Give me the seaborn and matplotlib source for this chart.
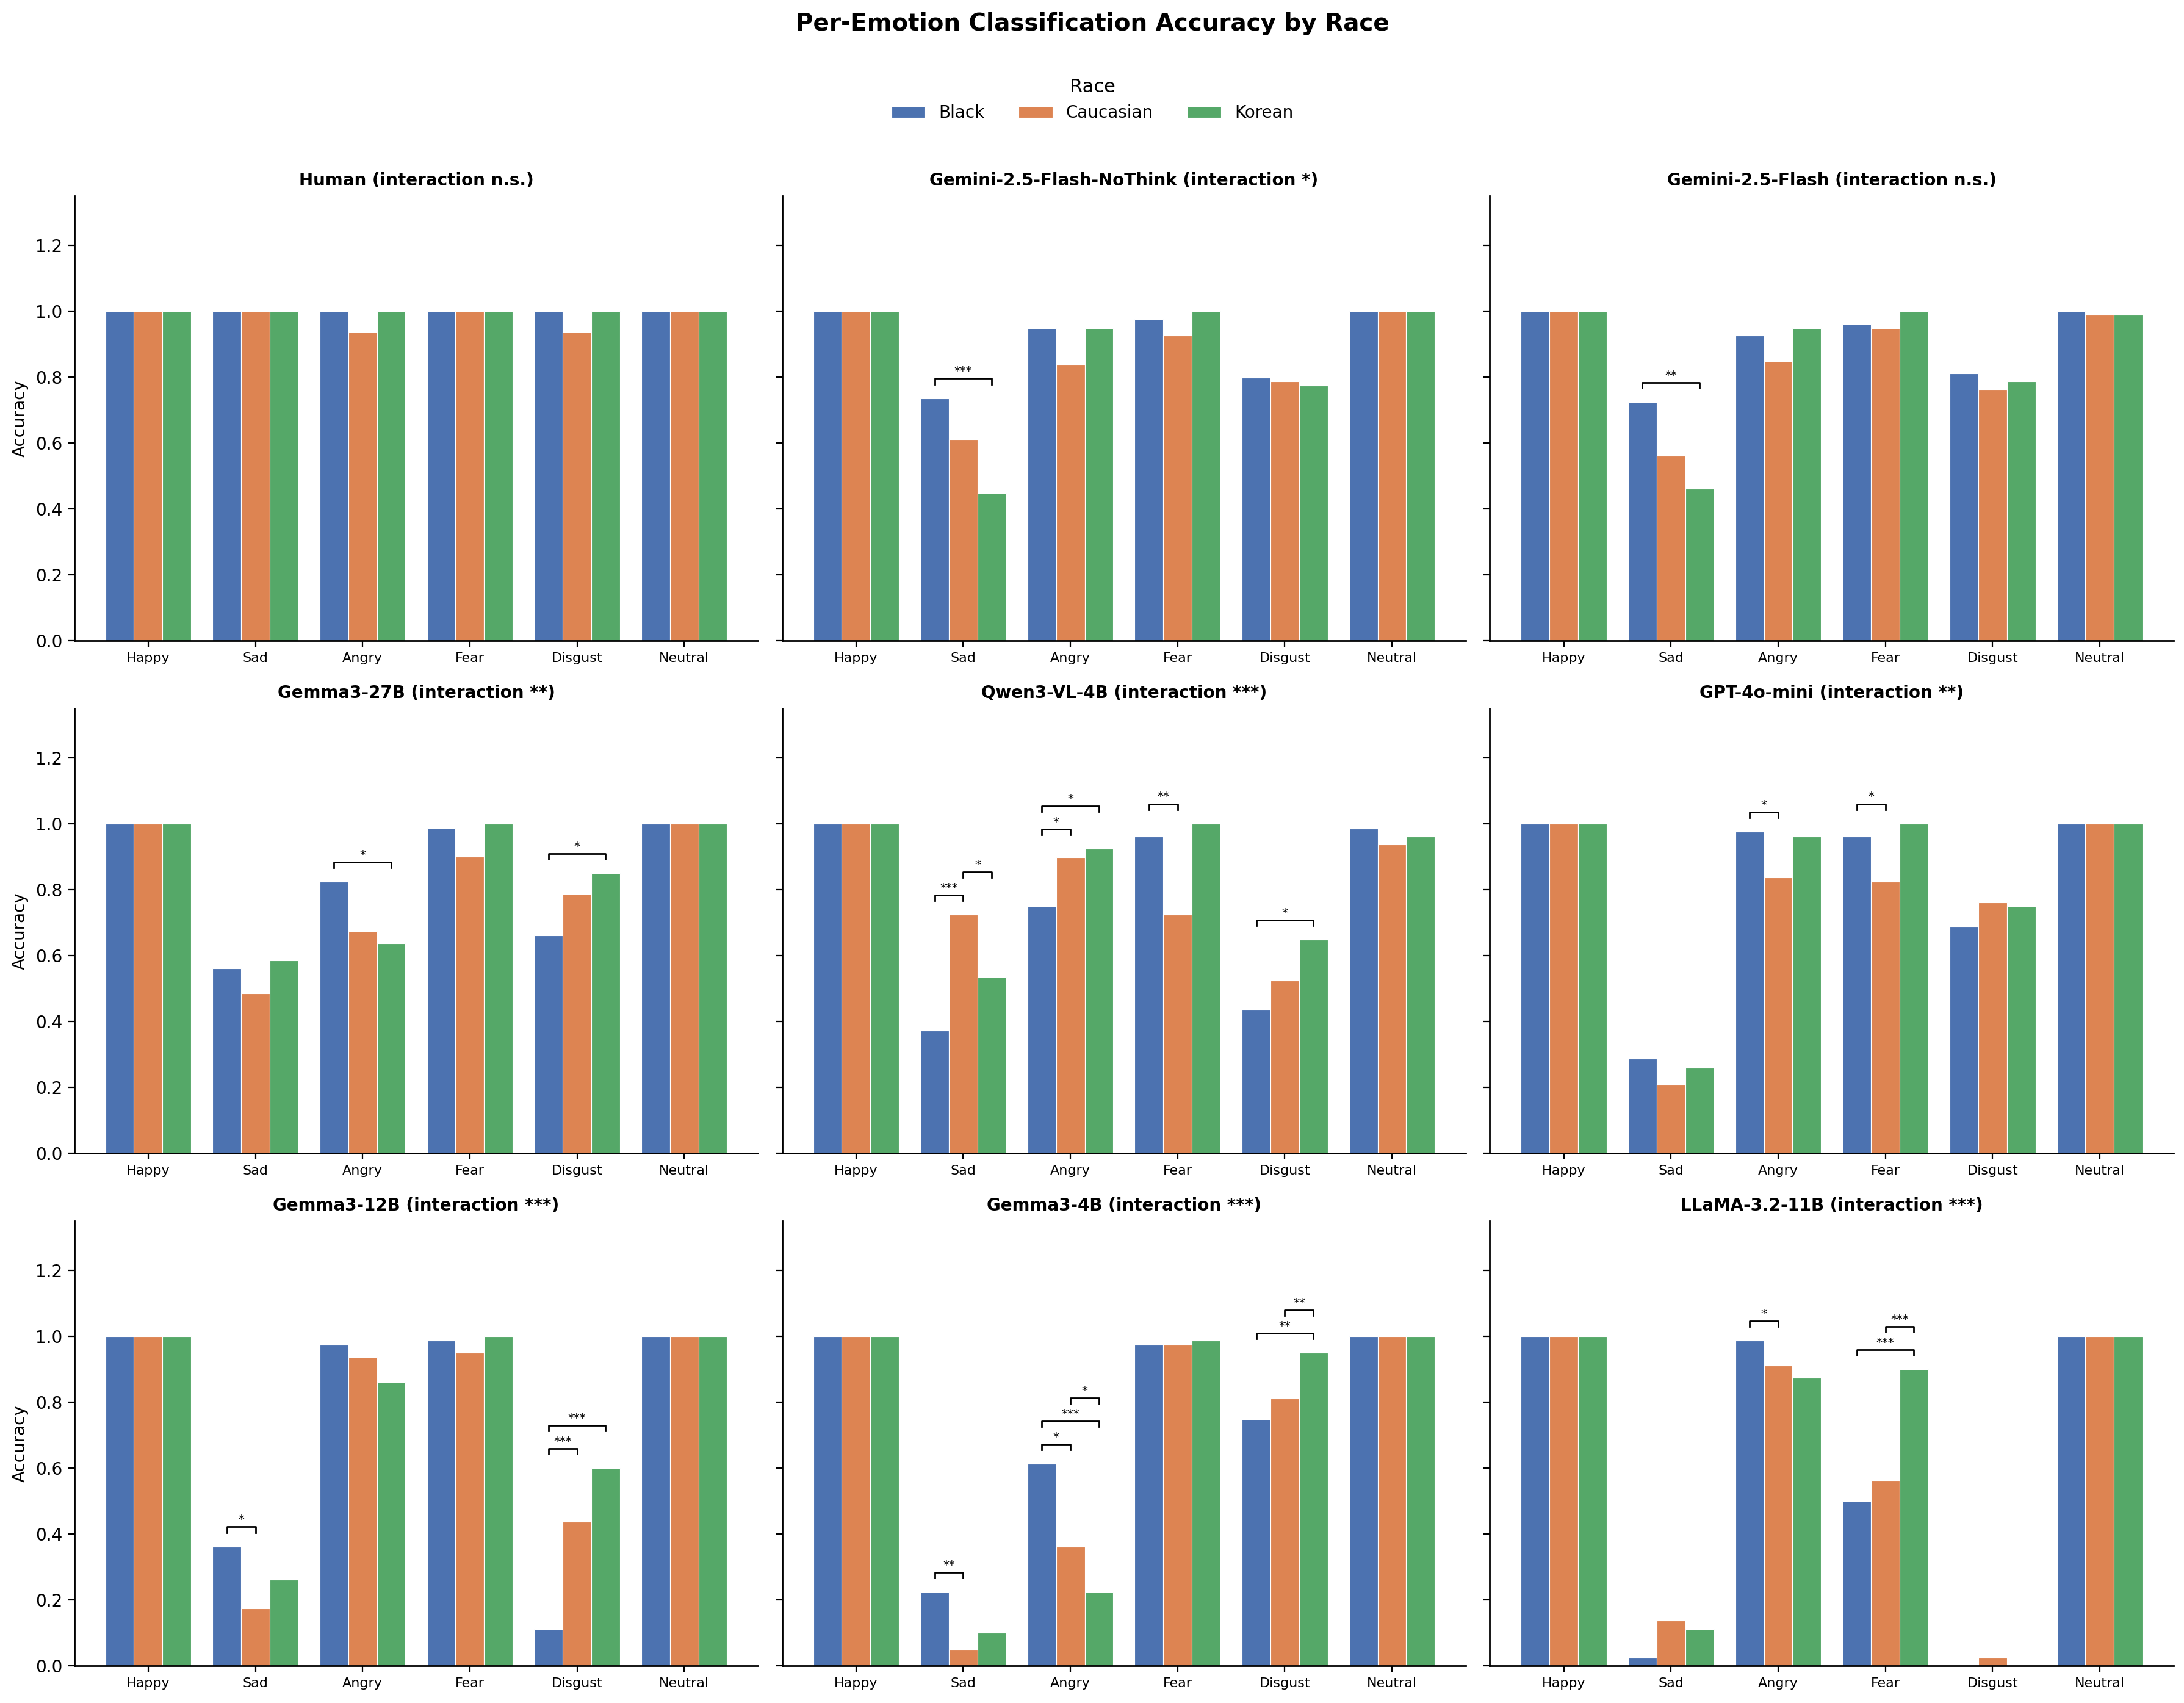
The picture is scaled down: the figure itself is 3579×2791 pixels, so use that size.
import pandas as pd
import numpy as np
import matplotlib
matplotlib.use("Agg")
import matplotlib.pyplot as plt
import seaborn as sns

# Kategorien
emotions = ['Happy', 'Sad', 'Angry', 'Fear', 'Disgust', 'Neutral']
races = ['Black', 'Caucasian', 'Korean']

# Genauigkeit je Modell: eine Liste pro Rasse, Reihenfolge wie emotions
human_black     = [1.0, 1.0, 1.0, 1.0, 1.0, 1.0]
human_caucasian = [1.0, 1.0, 0.937, 1.0, 0.937, 1.0]
human_korean    = [1.0, 1.0, 1.0, 1.0, 1.0, 1.0]

nothink_black     = [1.0, 0.735, 0.948, 0.975, 0.797, 1.0]
nothink_caucasian = [1.0, 0.611, 0.836, 0.925, 0.786, 1.0]
nothink_korean    = [1.0, 0.448, 0.948, 1.0, 0.773, 1.0]

flash_black     = [1.0, 0.723, 0.925, 0.961, 0.811, 1.0]
flash_caucasian = [1.0, 0.561, 0.848, 0.948, 0.762, 0.988]
flash_korean    = [1.0, 0.461, 0.948, 1.0, 0.786, 0.988]

g27_black     = [1.0, 0.561, 0.823, 0.986, 0.661, 1.0]
g27_caucasian = [1.0, 0.485, 0.674, 0.899, 0.786, 1.0]
g27_korean    = [1.0, 0.585, 0.637, 1.0, 0.849, 1.0]

qwen_black     = [1.0, 0.372, 0.749, 0.961, 0.434, 0.985]
qwen_caucasian = [1.0, 0.723, 0.898, 0.723, 0.523, 0.936]
qwen_korean    = [1.0, 0.534, 0.923, 1.0, 0.647, 0.961]

gpt_black     = [1.0, 0.286, 0.975, 0.961, 0.686, 1.0]
gpt_caucasian = [1.0, 0.209, 0.836, 0.823, 0.760, 1.0]
gpt_korean    = [1.0, 0.259, 0.961, 1.0, 0.749, 1.0]

g12_black     = [1.0, 0.361, 0.974, 0.986, 0.110, 1.0]
g12_caucasian = [1.0, 0.173, 0.936, 0.949, 0.437, 1.0]
g12_korean    = [1.0, 0.261, 0.861, 1.0, 0.599, 1.0]

g4_black     = [1.0, 0.223, 0.612, 0.974, 0.748, 1.0]
g4_caucasian = [1.0, 0.049, 0.361, 0.974, 0.811, 1.0]
g4_korean    = [1.0, 0.099, 0.223, 0.986, 0.949, 1.0]

llama_black     = [1.0, 0.023, 0.986, 0.500, 0.0, 1.0]
llama_caucasian = [1.0, 0.136, 0.910, 0.562, 0.023, 1.0]
llama_korean    = [1.0, 0.110, 0.873, 0.899, 0.0, 1.0]

# Titel der Panels
titles = [
    'Human (interaction n.s.)',
    'Gemini-2.5-Flash-NoThink (interaction *)',
    'Gemini-2.5-Flash (interaction n.s.)',
    'Gemma3-27B (interaction **)',
    'Qwen3-VL-4B (interaction ***)',
    'GPT-4o-mini (interaction **)',
    'Gemma3-12B (interaction ***)',
    'Gemma3-4B (interaction ***)',
    'LLaMA-3.2-11B (interaction ***)',
]

werte = [
    (human_black, human_caucasian, human_korean),
    (nothink_black, nothink_caucasian, nothink_korean),
    (flash_black, flash_caucasian, flash_korean),
    (g27_black, g27_caucasian, g27_korean),
    (qwen_black, qwen_caucasian, qwen_korean),
    (gpt_black, gpt_caucasian, gpt_korean),
    (g12_black, g12_caucasian, g12_korean),
    (g4_black, g4_caucasian, g4_korean),
    (llama_black, llama_caucasian, llama_korean),
]

# Signifikante Paarvergleiche (Emotion, Rasse 1, Rasse 2, Sterne)
sig_human = []
sig_nothink = [('Sad', 'Black', 'Korean', '***')]
sig_flash = [('Sad', 'Black', 'Korean', '**')]
sig_g27 = [('Angry', 'Black', 'Korean', '*'), ('Disgust', 'Black', 'Korean', '*')]
sig_qwen = [('Sad', 'Black', 'Caucasian', '***'), ('Sad', 'Caucasian', 'Korean', '*'),
            ('Angry', 'Black', 'Caucasian', '*'), ('Angry', 'Black', 'Korean', '*'),
            ('Fear', 'Black', 'Caucasian', '**'), ('Disgust', 'Black', 'Korean', '*')]
sig_gpt = [('Angry', 'Black', 'Caucasian', '*'), ('Fear', 'Black', 'Caucasian', '*')]
sig_g12 = [('Sad', 'Black', 'Caucasian', '*'),
           ('Disgust', 'Black', 'Caucasian', '***'), ('Disgust', 'Black', 'Korean', '***')]
sig_g4 = [('Sad', 'Black', 'Caucasian', '**'),
          ('Angry', 'Black', 'Caucasian', '*'), ('Angry', 'Black', 'Korean', '***'),
          ('Angry', 'Caucasian', 'Korean', '*'),
          ('Disgust', 'Black', 'Korean', '**'), ('Disgust', 'Caucasian', 'Korean', '**')]
sig_llama = [('Angry', 'Black', 'Caucasian', '*'),
             ('Fear', 'Black', 'Korean', '***'), ('Fear', 'Caucasian', 'Korean', '***')]

signifikanz = [sig_human, sig_nothink, sig_flash, sig_g27, sig_qwen,
               sig_gpt, sig_g12, sig_g4, sig_llama]

# ------------------------------------------

fig, axes = plt.subplots(3, 3, figsize=(17.9, 13.955), sharey=True)
fig.subplots_adjust(left=0.034, right=0.995, bottom=0.022, top=0.885,
                    wspace=0.035, hspace=0.153)

farben = sns.color_palette('deep', 3)
breite = 0.8 / 3

for i, ax in enumerate(axes.flat):
    b, c, k = werte[i]
    df = pd.DataFrame({
        'Emotion': emotions * 3,
        'Race': ['Black'] * 6 + ['Caucasian'] * 6 + ['Korean'] * 6,
        'Accuracy': b + c + k,
    })
    sns.barplot(data=df, x='Emotion', y='Accuracy', hue='Race', order=emotions,
                hue_order=races, palette=farben, saturation=1, edgecolor='white',
                linewidth=0.4, errorbar=None, ax=ax, legend=(i == 0))

    # Klammern mit Sternen
    stufe = {}
    for emo, r1, r2, txt in signifikanz[i]:
        e = emotions.index(emo)
        gmax = max(b[e], c[e], k[e])
        n = stufe.get(emo, 0)
        stufe[emo] = n + 1
        y = gmax + 0.06 + 0.07 * n
        x1 = e + (races.index(r1) - 1) * breite
        x2 = e + (races.index(r2) - 1) * breite
        ax.plot([x1, x1, x2, x2], [y - 0.017, y, y, y - 0.017], color='black', lw=1.0)
        ax.text((x1 + x2) / 2, y + 0.004, txt, ha='center', va='bottom', fontsize=7)

    ax.set_xlim(-0.69, 5.69)
    ax.set_ylim(0, 1.35)
    ax.set_title(titles[i], fontsize=10, fontweight='bold')
    ax.set_xlabel('')
    ax.tick_params(axis='x', labelsize=8)
    ax.tick_params(axis='y', labelsize=10)
    if i % 3 == 0:
        ax.set_ylabel('Accuracy', fontsize=10)
    else:
        ax.set_ylabel('')
    for s in ['left', 'bottom']:
        ax.spines[s].set_linewidth(1.0)
    sns.despine(ax=ax)

handles, labels = axes.flat[0].get_legend_handles_labels()
axes.flat[0].get_legend().remove()
fig.legend(handles, labels, title='Race', loc='upper center', ncol=3,
           bbox_to_anchor=(0.5, 0.963), frameon=False, fontsize=10, title_fontsize=11)

fig.suptitle('Per-Emotion Classification Accuracy by Race', fontsize=14,
             fontweight='bold', y=0.993)

plt.savefig('out.png', dpi=200)
